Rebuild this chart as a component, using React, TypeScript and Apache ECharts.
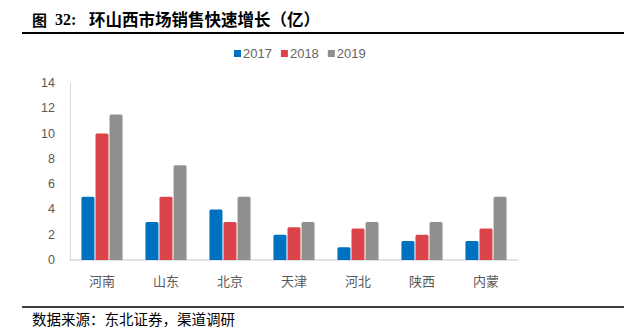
import React, { useEffect, useRef } from "react";
import * as echarts from "echarts";

const categories = ["河南", "山东", "北京", "天津", "河北", "陕西", "内蒙"];
const s2017 = [5, 3, 4, 2, 1, 1.5, 1.5];
const s2018 = [10, 5, 3, 2.6, 2.5, 2, 2.5];
const s2019 = [11.5, 7.5, 5, 3, 3, 3, 5];
const seriesNames = ["2017", "2018", "2019"];
const colors = ["#0070C0", "#DA4449", "#8F8F8F"];
const titleLabel = "图";
const titleNum = "32:";
const titleText = "环山西市场销售快速增长（亿）";
const sourceText = "数据来源：东北证券，渠道调研";

export default function App() {
  const ref = useRef<HTMLDivElement>(null);
  useEffect(() => {
    const chart = echarts.init(ref.current!, null, { renderer: "svg" });
    const data = [s2017, s2018, s2019];
    chart.setOption({
      animation: false,
      backgroundColor: "#ffffff",
      textStyle: { fontFamily: "Liberation Sans, Noto Sans CJK SC, sans-serif" },
      legend: {
        top: 42,
        left: 229,
        itemWidth: 7,
        itemHeight: 7,
        itemGap: 9,
        icon: "rect",
        textStyle: { color: "#666666", fontSize: 13, padding: [0, 0, 0, -3] },
        data: seriesNames,
      },
      grid: { left: 70, right: 106, top: 83, bottom: 76 },
      xAxis: {
        type: "category",
        data: categories,
        axisLine: { lineStyle: { color: "#D9D9D9", width: 1.5 } },
        axisTick: { show: false },
        axisLabel: { color: "#595959", fontSize: 13, margin: 14, fontFamily: "Noto Sans CJK SC" },
      },
      yAxis: {
        type: "value",
        min: 0,
        max: 14,
        interval: 2,
        axisLine: { show: true, lineStyle: { color: "#D9D9D9", width: 1 } },
        axisTick: { show: false },
        splitLine: { show: false },
        axisLabel: { color: "#595959", fontSize: 12.5, margin: 15 },
      },
      series: seriesNames.map((n, i) => ({
        name: n,
        type: "bar",
        data: data[i],
        barWidth: 13,
        barGap: "8%",
        itemStyle: { color: colors[i], borderRadius: [1.5, 1.5, 0, 0] },
      })),
      graphic: [
        {
          type: "text",
          x: 32,
          y: 19,
          style: {
            text: titleLabel,
            font: "bold 15px 'Noto Sans CJK SC'",
            fill: "#000",
            verticalAlign: "middle",
          },
        },
        {
          type: "text",
          x: 55,
          y: 19,
          style: {
            text: titleNum,
            font: "bold 16px 'Liberation Serif'",
            fill: "#000",
            verticalAlign: "middle",
          },
        },
        {
          type: "text",
          x: 89,
          y: 19,
          style: {
            text: titleText,
            font: "bold 16.5px 'Noto Sans CJK SC'",
            fill: "#000",
            verticalAlign: "middle",
          },
        },
        {
          type: "line",
          shape: { x1: 22, y1: 33, x2: 624, y2: 33 },
          style: { stroke: "#000", lineWidth: 2 },
        },
        {
          type: "line",
          shape: { x1: 22, y1: 307, x2: 624, y2: 307 },
          style: { stroke: "#000", lineWidth: 1.5 },
        },
        {
          type: "text",
          x: 32,
          y: 318,
          style: {
            text: sourceText,
            font: "14.5px 'Noto Sans CJK SC'",
            fill: "#000",
            verticalAlign: "middle",
          },
        },
      ],
    });
    return () => chart.dispose();
  }, []);
  return (
    <div
      ref={ref}
      style={{ position: "fixed", left: 0, top: 0, width: 624, height: 336 }}
    />
  );
}
